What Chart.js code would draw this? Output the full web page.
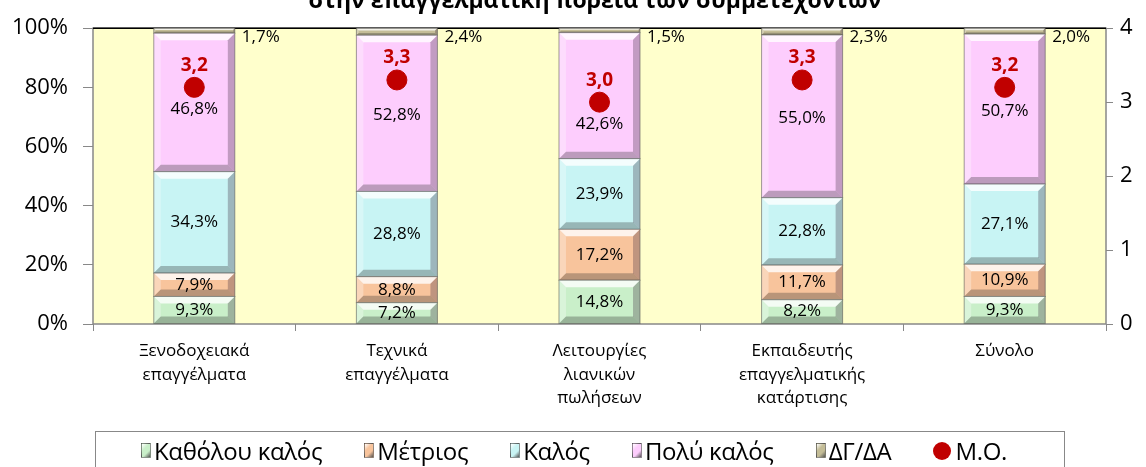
<!DOCTYPE html>
<html>
<head>
<meta charset="utf-8">
<script src="https://cdn.jsdelivr.net/npm/chart.js@4"></script>
<style>
  html, body { margin: 0; padding: 0; background: #fff; overflow: hidden; }
  #wrap { position: relative; width: 1146px; height: 467px; }
  #legend {
    position: absolute; left: 95px; top: 431px; width: 970px; height: 60px;
    border: 1px solid #888; box-sizing: border-box;
    display: flex; justify-content: center; align-items: flex-start; gap: 42px;
    font-family: "Open Sans", sans-serif; font-size: 24px; color: #000;
    padding-top: 2px; padding-right: 12px; letter-spacing: -0.3px;
  }
  #legend span.item { display: flex; align-items: center; white-space: nowrap; }
  #legend i { display: inline-block; width: 10px; height: 15px; margin-right: 3px; box-sizing: border-box; border: 1px solid rgba(80,80,80,0.6); }
  #legend b.dot { display: inline-block; width: 18px; height: 18px; border-radius: 50%; margin-right: 4px; }
</style>
</head>
<body>
<div id="wrap">
  <canvas id="myChart" width="1146" height="467"></canvas>
  <div id="legend"></div>
</div>
<script>
// categories and values
var categories = [
  ['Ξενοδοχειακά', 'επαγγέλματα'],
  ['Τεχνικά', 'επαγγέλματα'],
  ['Λειτουργίες', 'λιανικών', 'πωλήσεων'],
  ['Εκπαιδευτής', 'επαγγελματικής', 'κατάρτισης'],
  'Σύνολο'
];
var seriesNames = ['Καθόλου καλός', 'Μέτριος', 'Καλός', 'Πολύ καλός', 'ΔΓ/ΔΑ', 'Μ.Ο.'];
var notGood = [9.3, 7.2, 14.8, 8.2, 9.3];
var moderate = [7.9, 8.8, 17.2, 11.7, 10.9];
var good = [34.3, 28.8, 23.9, 22.8, 27.1];
var veryGood = [46.8, 52.8, 42.6, 55.0, 50.7];
var noAnswer = [1.7, 2.4, 1.5, 2.3, 2.0];
var meanScore = [3.2, 3.3, 3.0, 3.3, 3.2];
var titleText = 'στην επαγγελματική πορεία των συμμετεχόντων';

var colors = ['#C9EFC9', '#F8C49C', '#C8F4F4', '#FDCDFD', '#C4BD97', '#C00000'];
var FONT = '"Open Sans", sans-serif';

function fmt(v) { return v.toFixed(1).replace('.', ','); }

// yellow plot area + frame + cut title
var backPlugin = {
  id: 'back',
  beforeDatasetsDraw: function (chart) {
    var a = chart.chartArea, ctx = chart.ctx;
    ctx.save();
    ctx.fillStyle = '#FFFFCC';
    ctx.fillRect(a.left, a.top, a.right - a.left, a.bottom - a.top);
    ctx.strokeStyle = '#888';
    ctx.lineWidth = 1.5;
    ctx.strokeRect(a.left, a.top, a.right - a.left, a.bottom - a.top);
    ctx.strokeStyle = '#000';
    ctx.beginPath(); ctx.moveTo(a.left, a.top); ctx.lineTo(a.right, a.top); ctx.stroke();
    ctx.restore();
  },
  afterDraw: function (chart) {
    var ctx = chart.ctx;
    ctx.save();
    ctx.font = 'bold 23px ' + FONT;
    ctx.fillStyle = '#000';
    ctx.textAlign = 'center';
    ctx.textBaseline = 'alphabetic';
    ctx.fillText(titleText, 595, 8);
    ctx.restore();
  }
};

// simple bevel look on each bar piece
var bevelPlugin = {
  id: 'bevel',
  afterDatasetDraw: function (chart, args) {
    if (args.meta.type !== 'bar') return;
    var ctx = chart.ctx;
    args.meta.data.forEach(function (bar) {
      var x0 = bar.x - bar.width / 2, x1 = bar.x + bar.width / 2;
      var y0 = Math.min(bar.y, bar.base), y1 = Math.max(bar.y, bar.base);
      var b = Math.min(7, (y1 - y0) / 3);
      ctx.save();
      ctx.fillStyle = 'rgba(255,255,255,0.8)';
      ctx.beginPath(); ctx.moveTo(x0, y0); ctx.lineTo(x1, y0); ctx.lineTo(x1 - b, y0 + b); ctx.lineTo(x0 + b, y0 + b); ctx.fill();
      ctx.fillStyle = 'rgba(255,255,255,0.3)';
      ctx.beginPath(); ctx.moveTo(x0, y0); ctx.lineTo(x0 + b, y0 + b); ctx.lineTo(x0 + b, y1 - b); ctx.lineTo(x0, y1); ctx.fill();
      ctx.fillStyle = 'rgba(60,40,60,0.3)';
      ctx.beginPath(); ctx.moveTo(x1, y0); ctx.lineTo(x1, y1); ctx.lineTo(x1 - b, y1 - b); ctx.lineTo(x1 - b, y0 + b); ctx.fill();
      ctx.fillStyle = 'rgba(40,40,40,0.3)';
      ctx.beginPath(); ctx.moveTo(x0, y1); ctx.lineTo(x1, y1); ctx.lineTo(x1 - b, y1 - b); ctx.lineTo(x0 + b, y1 - b); ctx.fill();
      ctx.strokeStyle = 'rgba(80,80,80,0.55)';
      ctx.lineWidth = 1;
      ctx.strokeRect(x0, y0, x1 - x0, y1 - y0);
      ctx.restore();
    });
  }
};

// value labels
var labelPlugin = {
  id: 'labels',
  afterDatasetsDraw: function (chart) {
    var ctx = chart.ctx;
    var meanMeta = chart.getDatasetMeta(5);
    ctx.save();
    chart.data.datasets.forEach(function (ds, i) {
      var meta = chart.getDatasetMeta(i);
      meta.data.forEach(function (el, j) {
        var v = ds.data[j];
        if (i < 4) {
          var ly = (el.y + el.base) / 2;
          if (i === 3) ly = Math.max(ly + 2, meanMeta.data[j].y + 22);
          ctx.font = '17px ' + FONT;
          ctx.fillStyle = '#000';
          ctx.textAlign = 'center';
          ctx.textBaseline = 'middle';
          ctx.fillText(fmt(v) + '%', el.x, ly);
        } else if (i === 4) {
          ctx.font = '17px ' + FONT;
          ctx.fillStyle = '#000';
          ctx.textAlign = 'left';
          ctx.textBaseline = 'middle';
          ctx.fillText(fmt(v) + '%', el.x + el.width / 2 + 7, el.y + 9);
        } else {
          ctx.font = 'bold 19px ' + FONT;
          ctx.fillStyle = '#C00000';
          ctx.textAlign = 'center';
          ctx.textBaseline = 'middle';
          ctx.fillText(fmt(v), el.x, el.y - 22);
        }
      });
    });
    ctx.restore();
  }
};

var barSeries = [notGood, moderate, good, veryGood, noAnswer];
var datasets = barSeries.map(function (arr, i) {
  return {
    type: 'bar',
    label: seriesNames[i],
    data: arr,
    backgroundColor: colors[i],
    borderWidth: 0,
    yAxisID: 'y',
    order: 1,
    categoryPercentage: 1,
    barPercentage: 0.4
  };
});
datasets.push({
  type: 'line',
  label: seriesNames[5],
  data: meanScore,
  yAxisID: 'y1',
  showLine: false,
  pointRadius: 10,
  pointHoverRadius: 10,
  pointBackgroundColor: colors[5],
  pointBorderColor: colors[5],
  order: 0
});

var ctx = document.getElementById('myChart').getContext('2d');
var myChart = new Chart(ctx, {
  type: 'bar',
  data: { labels: categories, datasets: datasets },
  plugins: [backPlugin, bevelPlugin, labelPlugin],
  options: {
    responsive: false,
    animation: false,
    layout: { padding: { top: 21, left: 0, right: 0, bottom: 0 } },
    plugins: { legend: { display: false }, tooltip: { enabled: false }, title: { display: false } },
    scales: {
      x: {
        stacked: true,
        offset: true,
        grid: { offset: true, drawOnChartArea: false, tickLength: 7, color: '#888' },
        border: { display: false },
        ticks: { color: '#000', font: { family: FONT, size: 17, lineHeight: 1.4 }, padding: 8, maxRotation: 0, autoSkip: false },
        afterFit: function (s) { s.height = 143; }
      },
      y: {
        stacked: true,
        min: 0,
        max: 100,
        position: 'left',
        grid: { drawOnChartArea: false, tickLength: 10, color: '#888' },
        border: { display: false },
        ticks: { stepSize: 20, color: '#000', font: { family: FONT, size: 22 }, padding: 15,
          callback: function (v) { return v + '%'; } },
        afterFit: function (s) { s.width = 93; }
      },
      y1: {
        min: 0,
        max: 4,
        position: 'right',
        grid: { drawOnChartArea: false, tickLength: 7, color: '#888' },
        border: { display: false },
        ticks: { stepSize: 1, color: '#000', font: { family: FONT, size: 22 }, padding: 7 },
        afterFit: function (s) { s.width = 40; }
      }
    }
  }
});

// legend below, in a bordered box
var legend = document.getElementById('legend');
seriesNames.forEach(function (name, i) {
  var item = document.createElement('span');
  item.className = 'item';
  var mark;
  if (i < 5) {
    mark = document.createElement('i');
    mark.style.background = 'linear-gradient(135deg, #fff 0%, ' + colors[i] + ' 35%, ' + colors[i] + ' 65%, #555 100%)';
  } else {
    mark = document.createElement('b');
    mark.className = 'dot';
    mark.style.background = colors[i];
  }
  item.appendChild(mark);
  item.appendChild(document.createTextNode(name));
  legend.appendChild(item);
});
</script>
</body>
</html>
